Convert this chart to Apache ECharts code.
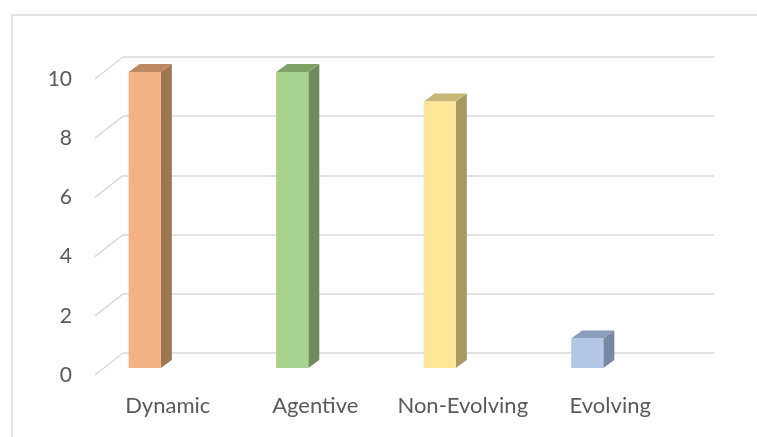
<!DOCTYPE html>
<html>
<head>
<meta charset="utf-8">
<script src="https://cdn.jsdelivr.net/npm/echarts@6/dist/echarts.min.js"></script>
<style>
  html, body { margin: 0; padding: 0; background: #ffffff; }
  #chart { width: 757px; height: 437px; }
</style>
</head>
<body>
<div id="chart"></div>
<script>
// Chart data
const categories = ['Dynamic', 'Agentive', 'Non-Evolving', 'Evolving'];
const values = [10, 10, 9, 1];
const yTicks = [0, 2, 4, 6, 8, 10];

// Bar shading: front face, right side, top
const faceColors = ['#F4B183', '#A9D18E', '#FFE699', '#B4C7E7'];
const sideColors = ['#A07552', '#6F8A5C', '#A8985F', '#7888A3'];
const topColors  = ['#BC8862', '#80A269', '#C8B677', '#8B9EBD'];

const FONT = 'Lato, "Open Sans", sans-serif';
const GRID_COLOR = '#d9d9d9';
const TEXT_COLOR = '#595959';

const chart = echarts.init(document.getElementById('chart'), null, { renderer: 'canvas' });

// depth of the 3D extrusion (to the back-right)
const DEPTH_X = 11, DEPTH_Y = -8;
// offset from the back wall to the floor's front edge
const WALL_X = -28, WALL_Y = 22;

const option = {
  backgroundColor: '#ffffff',
  animation: false,
  graphic: [{
    type: 'rect',
    shape: { x: 12, y: 15, width: 800, height: 500 },
    style: { fill: 'none', stroke: GRID_COLOR, lineWidth: 1.5 },
    silent: true
  }],
  grid: [
    // back wall
    { left: 123, right: 43, top: 57, bottom: 84 },
    // bar front plane
    { left: 71, right: 96, top: 72, bottom: 69 },
    // front floor edge (labels)
    { left: 94, right: 73, top: 79, bottom: 62 }
  ],
  xAxis: [
    { gridIndex: 0, type: 'value', min: 0, max: 1, show: false },
    { gridIndex: 1, type: 'category', data: categories, show: false },
    {
      gridIndex: 2, type: 'category', data: categories,
      axisLine: { show: false }, axisTick: { show: false },
      axisLabel: { interval: 0, color: TEXT_COLOR, fontFamily: FONT, fontSize: 22, margin: 20 }
    }
  ],
  yAxis: [
    {
      gridIndex: 0, type: 'value', min: 0, max: 10, interval: 2,
      axisLine: { show: false }, axisTick: { show: false }, axisLabel: { show: false },
      splitLine: { lineStyle: { color: GRID_COLOR, width: 1.5 } }
    },
    { gridIndex: 1, type: 'value', min: 0, max: 10, interval: 2, show: false },
    {
      gridIndex: 2, type: 'value', min: 0, max: 10, interval: 2,
      axisLine: { show: false }, axisTick: { show: false }, splitLine: { show: false },
      axisLabel: { color: TEXT_COLOR, fontFamily: FONT, fontSize: 21, margin: 22 }
    }
  ],
  series: [
    {
      // slanted side-wall lines joining the back gridlines to the front edge
      type: 'custom',
      xAxisIndex: 0, yAxisIndex: 0,
      data: yTicks.map(v => [0, v]),
      silent: true,
      renderItem: function (params, api) {
        const p = api.coord([0, api.value(1)]);
        return {
          type: 'line',
          shape: { x1: p[0] + WALL_X, y1: p[1] + WALL_Y, x2: p[0], y2: p[1] },
          style: { stroke: GRID_COLOR, lineWidth: 1.5 }
        };
      }
    },
    {
      // 3D columns
      type: 'custom',
      xAxisIndex: 1, yAxisIndex: 1,
      data: values.map((v, i) => [i, v]),
      renderItem: function (params, api) {
        const i = api.value(0);
        const v = api.value(1);
        const base = api.coord([i, 0]);
        const top = api.coord([i, v]);
        const w = api.size([1, 0])[0] * 0.218;
        const x0 = base[0] - w / 2, x1 = base[0] + w / 2;
        const yT = top[1], yB = base[1];
        return {
          type: 'group',
          children: [
            {
              type: 'polygon',
              shape: { points: [[x1, yT], [x1 + DEPTH_X, yT + DEPTH_Y], [x1 + DEPTH_X, yB + DEPTH_Y], [x1, yB]] },
              style: { fill: sideColors[i] }
            },
            {
              type: 'polygon',
              shape: { points: [[x0, yT], [x0 + DEPTH_X, yT + DEPTH_Y], [x1 + DEPTH_X, yT + DEPTH_Y], [x1, yT]] },
              style: { fill: topColors[i] }
            },
            {
              type: 'rect',
              shape: { x: x0, y: yT, width: w, height: yB - yT },
              style: { fill: faceColors[i] }
            }
          ]
        };
      }
    }
  ]
};

chart.setOption(option);
</script>
</body>
</html>
